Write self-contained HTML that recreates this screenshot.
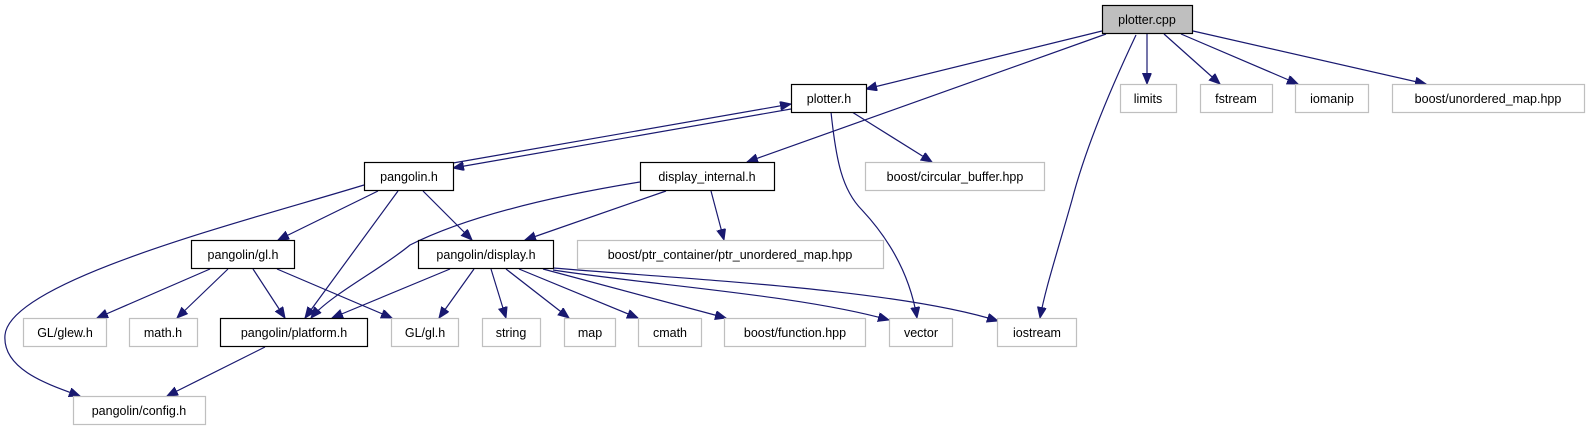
<!DOCTYPE html>
<html><head><meta charset="utf-8"><style>
html,body{margin:0;padding:0;background:#fff;}
svg{display:block;}
text{font-family:"Liberation Sans",sans-serif;font-size:12.5px;fill:#000;}
</style></head><body>
<svg width="1589" height="427" viewBox="0 0 1589 427" xmlns="http://www.w3.org/2000/svg">
<defs>
<marker id="a" markerUnits="userSpaceOnUse" markerWidth="12" markerHeight="10" refX="11" refY="4.5" orient="auto">
<path d="M0,0 L11,4.5 L0,9 Z" fill="#191970" stroke="#191970"/>
</marker>
</defs>
<g fill="none" stroke="#191970" stroke-width="1.2" marker-end="url(#a)">
<path d="M1102,31 L866,89"/>
<path d="M1106,34 L747,162"/>
<path d="M1136,35 C1110,90 1085,150 1072,200 C1055,260 1045,290 1040,318"/>
<path d="M1147,34 L1147,84"/>
<path d="M1164,34 L1220,84"/>
<path d="M1181,34 L1298,84"/>
<path d="M1193,31 L1426,84"/>
<path d="M852,112 L932,162"/>
<path d="M831,112 C836,160 842,190 862,210 C890,240 910,275 917,318"/>
<path d="M453,163 L791,104"/>
<path d="M791,109 L453,168"/>
<path d="M364,185 C250,220 10,280 5,335 C2,370 50,385 80,396"/>
<path d="M378,191 L278,240"/>
<path d="M398,191 L305,318"/>
<path d="M423,191 L472,240"/>
<path d="M666,191 L525,240"/>
<path d="M711,191 L724,240"/>
<path d="M640,182 C560,195 470,215 410,245 C380,270 330,295 311,318"/>
<path d="M210,269 L97,318"/>
<path d="M228,269 L177,318"/>
<path d="M253,269 L285,318"/>
<path d="M277,269 L392,318"/>
<path d="M450,269 L332,318"/>
<path d="M474,269 L439,318"/>
<path d="M491,269 L506,318"/>
<path d="M506,269 L569,318"/>
<path d="M519,269 L638,318"/>
<path d="M543,269 L726,318"/>
<path d="M553,270 C650,285 800,295 889,320"/>
<path d="M553,268 C700,280 900,290 998,321"/>
<path d="M265,347 L167,396"/>
</g>
<g stroke-width="1.2">
<rect x="1102.5" y="5.5" width="90" height="28" fill="#bfbfbf" stroke="#000"/>
<rect x="791.5" y="84.5" width="75" height="28" fill="#fff" stroke="#000"/>
<rect x="1120.5" y="84.5" width="56" height="28" fill="#fff" stroke="#bfbfbf"/>
<rect x="1200.5" y="84.5" width="72" height="28" fill="#fff" stroke="#bfbfbf"/>
<rect x="1295.5" y="84.5" width="73" height="28" fill="#fff" stroke="#bfbfbf"/>
<rect x="1392.5" y="84.5" width="192" height="28" fill="#fff" stroke="#bfbfbf"/>
<rect x="364.5" y="162.5" width="89" height="28" fill="#fff" stroke="#000"/>
<rect x="640.5" y="162.5" width="134" height="28" fill="#fff" stroke="#000"/>
<rect x="865.5" y="162.5" width="179" height="28" fill="#fff" stroke="#bfbfbf"/>
<rect x="191.5" y="240.5" width="103" height="28" fill="#fff" stroke="#000"/>
<rect x="418.5" y="240.5" width="135" height="28" fill="#fff" stroke="#000"/>
<rect x="577.5" y="240.5" width="306" height="28" fill="#fff" stroke="#bfbfbf"/>
<rect x="23.5" y="318.5" width="83" height="28" fill="#fff" stroke="#bfbfbf"/>
<rect x="129.5" y="318.5" width="68" height="28" fill="#fff" stroke="#bfbfbf"/>
<rect x="220.5" y="318.5" width="147" height="28" fill="#fff" stroke="#000"/>
<rect x="391.5" y="318.5" width="67" height="28" fill="#fff" stroke="#bfbfbf"/>
<rect x="482.5" y="318.5" width="58" height="28" fill="#fff" stroke="#bfbfbf"/>
<rect x="564.5" y="318.5" width="51" height="28" fill="#fff" stroke="#bfbfbf"/>
<rect x="638.5" y="318.5" width="63" height="28" fill="#fff" stroke="#bfbfbf"/>
<rect x="724.5" y="318.5" width="141" height="28" fill="#fff" stroke="#bfbfbf"/>
<rect x="889.5" y="318.5" width="63" height="28" fill="#fff" stroke="#bfbfbf"/>
<rect x="997.5" y="318.5" width="79" height="28" fill="#fff" stroke="#bfbfbf"/>
<rect x="73.5" y="396.5" width="132" height="28" fill="#fff" stroke="#bfbfbf"/>
</g>
<g text-anchor="middle">
<text x="1147" y="24">plotter.cpp</text>
<text x="829" y="103">plotter.h</text>
<text x="1148" y="103">limits</text>
<text x="1236" y="103">fstream</text>
<text x="1332" y="103">iomanip</text>
<text x="1488" y="103">boost/unordered_map.hpp</text>
<text x="409" y="181">pangolin.h</text>
<text x="707" y="181">display_internal.h</text>
<text x="955" y="181">boost/circular_buffer.hpp</text>
<text x="243" y="259">pangolin/gl.h</text>
<text x="486" y="259">pangolin/display.h</text>
<text x="730" y="259">boost/ptr_container/ptr_unordered_map.hpp</text>
<text x="65" y="337">GL/glew.h</text>
<text x="163" y="337">math.h</text>
<text x="294" y="337">pangolin/platform.h</text>
<text x="425" y="337">GL/gl.h</text>
<text x="511" y="337">string</text>
<text x="590" y="337">map</text>
<text x="670" y="337">cmath</text>
<text x="795" y="337">boost/function.hpp</text>
<text x="921" y="337">vector</text>
<text x="1037" y="337">iostream</text>
<text x="139" y="415">pangolin/config.h</text>
</g>
</svg>
</body></html>
